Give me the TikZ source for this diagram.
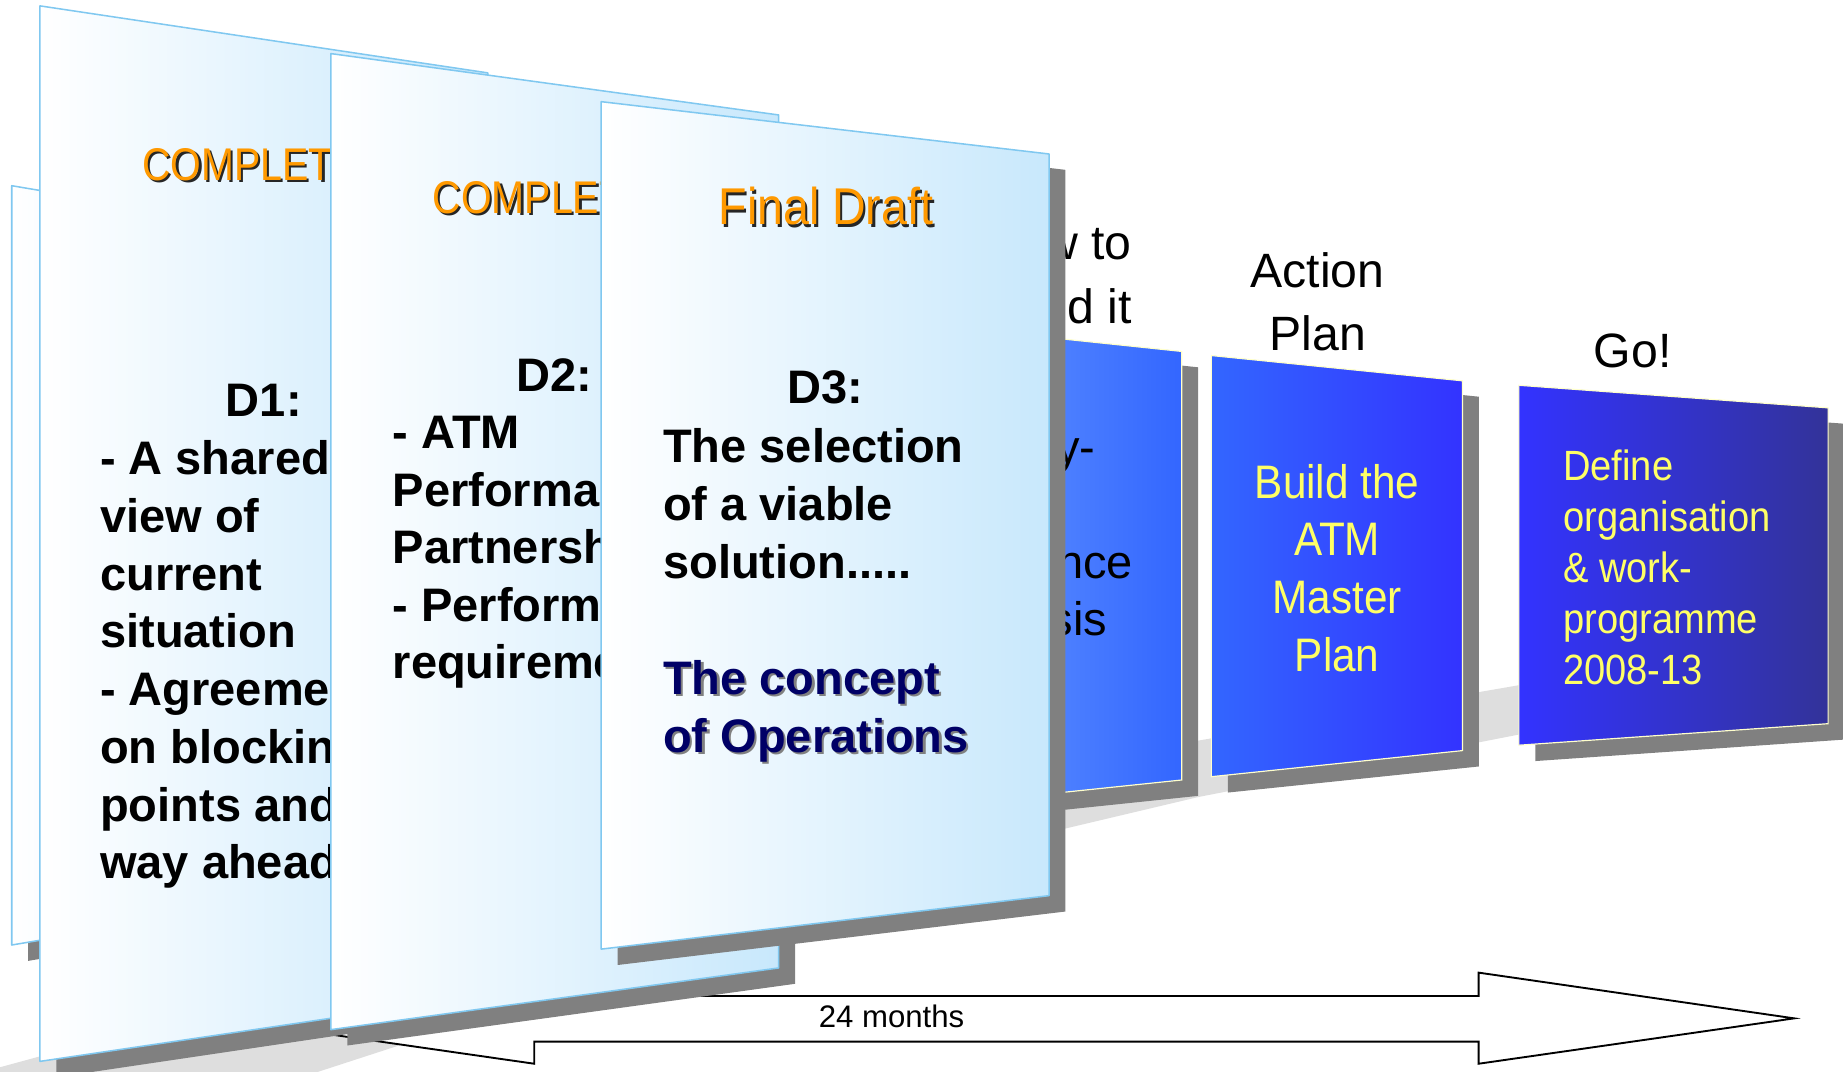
\documentclass[tikz,border=0pt]{standalone}
\usepackage{fontspec}
\setmainfont{Liberation Sans}
\newfontfamily\narrowfont[FakeStretch=0.9]{Liberation Sans}
\newfontfamily\narrowcap[FakeStretch=0.86]{Liberation Sans}
\definecolor{paperblue}{HTML}{C8E8FC}
\definecolor{paperedge}{HTML}{80C8F0}
\definecolor{shadowgray}{HTML}{808080}
\definecolor{floorgray}{HTML}{DEDEDE}
\definecolor{cardedge}{HTML}{FFFFCC}
\definecolor{blueA}{HTML}{6699FF}
\definecolor{blueB}{HTML}{3366FF}
\definecolor{blueC}{HTML}{3333FF}
\definecolor{blueD}{HTML}{333399}
\definecolor{orangetxt}{HTML}{FF9900}
\definecolor{yellowtxt}{HTML}{FFFF66}
\definecolor{navytxt}{HTML}{000066}
\begin{document}
\begin{tikzpicture}[x=1pt,y=-1pt,
  paper/.style={left color=white,right color=paperblue,draw=paperedge,line width=1.3pt,line join=round},
  dropshade/.style={fill=shadowgray,shift={(14,13.5)}},
  bluebox/.style={draw=cardedge,line width=1pt},
  floorband/.style={fill=floorgray},
  blockarrow/.style={draw=black,fill=white,line width=1.6pt,line join=miter},
  bodytxt/.style={font=\bfseries\fontsize{40}{49}\selectfont,inner sep=0pt,anchor=base west},
  dtag/.style={font=\bfseries\fontsize{40}{49}\selectfont,inner sep=0pt,anchor=base},
  headtxt/.style={font=\fontsize{41}{50}\selectfont,inner sep=0pt},
  captxt/.style={font=\narrowcap\fontsize{39}{47}\selectfont,inner sep=0pt,anchor=base west},
  drafttxt/.style={font=\narrowfont\fontsize{44}{52}\selectfont,inner sep=0pt,anchor=base},
  actiontxt/.style={font=\narrowfont\fontsize{40}{49}\selectfont,text=yellowtxt,inner sep=0pt,anchor=base},
  gotxt/.style={font=\narrowfont\fontsize{36}{43}\selectfont,text=yellowtxt,inner sep=0pt,anchor=base west},
  howtxt/.style={font=\fontsize{40}{49}\selectfont,inner sep=0pt,anchor=base east}
]
\useasboundingbox (0,0) rectangle (1568,912);
\clip (0,0) rectangle (1568,912);

% floor shadow band
\fill[floorband] (0,908) -- (1020,630) -- (1292,583) -- (1568,535) -- (1568,585)
  -- (1292,625) -- (1020,678) -- (906,705) -- (0,1000) -- cycle;

% 24 months double arrow
\coordinate (aRt) at (1526.5,866.4);
\coordinate (aRht) at (1258,827.5);
\coordinate (aRbt) at (1258,847.4);
\coordinate (aLbt) at (454.5,847.4);
\coordinate (aLht) at (454.5,827.5);
\coordinate (aLt) at (186,866.4);
\coordinate (aLhb) at (454.5,905);
\coordinate (aLbb) at (454.5,886.2);
\coordinate (aRbb) at (1258,886.2);
\coordinate (aRhb) at (1258,905);
\draw[blockarrow] (aRt) -- (aRht) -- (aRbt) -- (aLbt) -- (aLht) -- (aLt)
  -- (aLhb) -- (aLbb) -- (aRbb) -- (aRhb) -- cycle;
\node[font=\fontsize{26.5}{30}\selectfont,inner sep=0pt,anchor=base] (months) at (758.5,874.4) {24 months};

% How to build it card
\fill[dropshade] (800,277.5) -- (1005.4,299) -- (1005.4,663.6) -- (800,685) -- cycle;
\shadedraw[bluebox,left color=blueA,right color=blueB] (800,277.5) -- (1005.4,299) -- (1005.4,663.6) -- (800,685) -- cycle;
\node[howtxt] (h1) at (932,394.5) {y-};
\node[howtxt] (h2) at (964,491.8) {nce};
\node[howtxt] (h3) at (942,541) {sis};
\node[headtxt,anchor=base east] (ht1) at (963,221) {How to};
\node[headtxt,anchor=base east] (ht2) at (963,275.4) {build it};

% Action Plan card
\fill[dropshade] (1030.6,302.5) -- (1244.2,324) -- (1244.2,638.6) -- (1030.6,660.8) -- cycle;
\shadedraw[bluebox,left color=blueB,right color=blueC] (1030.6,302.5) -- (1244.2,324) -- (1244.2,638.6) -- (1030.6,660.8) -- cycle;
\foreach \t [count=\i from 0] in {Build the, ATM, Master, Plan}
  \node[actiontxt] (ab\i) at (1137.6,423.7+49.3*\i) {\t};
\node[headtxt,anchor=base] (at1) at (1121,245) {Action};
\node[headtxt,anchor=base] (at2) at (1121,298) {Plan};

% Go card
\fill[dropshade] (1292.2,327.8) -- (1555.3,347) -- (1555.3,615.7) -- (1292.2,634) -- cycle;
\shadedraw[bluebox,left color=blueC,right color=blueD] (1292.2,327.8) -- (1555.3,347) -- (1555.3,615.7) -- (1292.2,634) -- cycle;
\foreach \t [count=\i from 0] in {Define, organisation, \& work-, programme, 2008-13}
  \node[gotxt] (gb\i) at (1329.8,408.4+43.4*\i) {\t};
\node[headtxt,anchor=base] (gt) at (1389,313) {Go!};

% back card
\fill[dropshade] (10,158) -- (300,207) -- (300,755) -- (10,804) -- cycle;
\shadedraw[paper] (10,158) -- (300,207) -- (300,755) -- (10,804) -- cycle;

% D1 card
\fill[dropshade] (34,5) -- (415,62) -- (415,846.5) -- (34,903) -- cycle;
\shadedraw[paper] (34,5) -- (415,62) -- (415,846.5) -- (34,903) -- cycle;
\node[captxt,text=black!85] (c1s) at (122.8,155.3) {COMPLETED};
\node[captxt,text=orangetxt] (c1) at (121,153.5) {COMPLETED};
\node[dtag] (d1) at (224.5,354) {D1:};
\foreach \t [count=\i from 0] in {- A shared, view of, current, situation, - Agreement, on blocking, points and, way ahead}
  \node[bodytxt] (d1l\i) at (85,404+49.1*\i) {\t};

% D2 card
\fill[dropshade] (281.5,45.6) -- (662.5,97.8) -- (662.5,823.5) -- (281.5,876) -- cycle;
\shadedraw[paper] (281.5,45.6) -- (662.5,97.8) -- (662.5,823.5) -- (281.5,876) -- cycle;
\node[captxt,text=black!85] (c2s) at (369.8,183.5) {COMPLETED};
\node[captxt,text=orangetxt] (c2) at (368,181.7) {COMPLETED};
\node[dtag] (d2) at (471.5,333) {D2:};
\foreach \t [count=\i from 0] in {- ATM, Performance, Partnership, - Performance, requirements}
  \node[bodytxt] (d2l\i) at (334,381.5+49*\i) {\t};

% D3 card
\fill[dropshade] (511.5,86.5) -- (892.5,131) -- (892.5,762) -- (511.5,807.5) -- cycle;
\shadedraw[paper] (511.5,86.5) -- (892.5,131) -- (892.5,762) -- (511.5,807.5) -- cycle;
\node[drafttxt,text=black!85] (fds) at (704.5,193.2) {Final Draft};
\node[drafttxt,text=orangetxt] (fd) at (702.7,191.4) {Final Draft};
\node[dtag] (d3) at (702,343.4) {D3:};
\node[bodytxt] (d3l0) at (564,393.5) {The selection};
\node[bodytxt] (d3l1) at (564,442.8) {of a viable};
\node[bodytxt] (d3l2) at (564,492.1) {solution.....};
\node[bodytxt,text=black!50] (co1s) at (565.8,592.5) {The concept};
\node[bodytxt,text=navytxt] (co1) at (564,590.7) {The concept};
\node[bodytxt,text=black!50] (co2s) at (565.8,641.8) {of Operations};
\node[bodytxt,text=navytxt] (co2) at (564,640) {of Operations};
\end{tikzpicture}
\end{document}
